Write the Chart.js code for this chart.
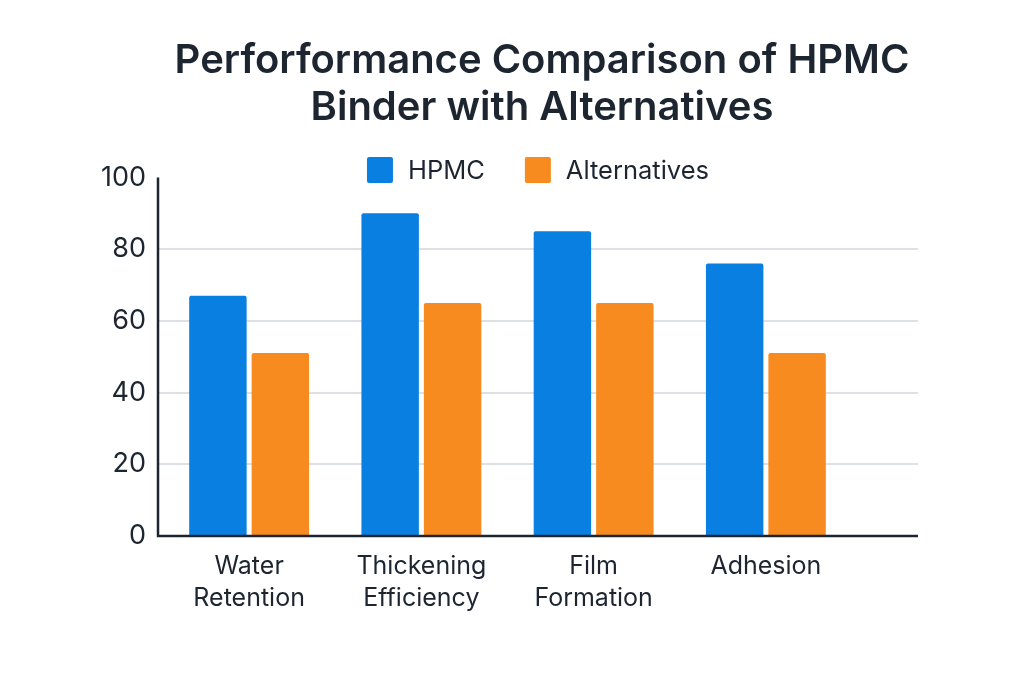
<!DOCTYPE html>
<html>
<head>
<meta charset="utf-8">
<title>Performance Comparison of HPMC Binder with Alternatives</title>
<script src="https://cdn.jsdelivr.net/npm/chart.js@4.4.1/dist/chart.umd.min.js"></script>
<style>
  html, body { margin: 0; padding: 0; background: #fff; }
</style>
</head>
<body>
<canvas id="chart" width="1024" height="683"></canvas>
<script>
// DATA
const categories = [['Water', 'Retention'], ['Thickening', 'Efficiency'], ['Film', 'Formation'], ['Adhesion']];
const hpmcValues = [67, 90, 85, 76];
const altValues = [51, 65, 65, 51];
const yTicks = [0, 20, 40, 60, 80, 100];
const seriesNames = ['HPMC', 'Alternatives'];
const seriesColors = ['#0a7fe2', '#f78b1f'];
const titleLines = ['Perforformance Comparison of HPMC', 'Binder with Alternatives'];

const TEXT = '#1c2530';
const FONT = 'Inter, "Noto Sans", sans-serif';

// grid lines + axis lines run a bit past the category area
const frame = {
    id: 'frame',
    beforeDatasetsDraw(chart) {
        const { ctx, chartArea } = chart;
        const y = chart.scales.y;
        const left = chartArea.left - 5, right = chartArea.right + 66;
        ctx.save();
        ctx.strokeStyle = '#dde1e6';
        ctx.lineWidth = 2;
        yTicks.slice(1, -1).forEach(v => {
            const py = Math.round(y.getPixelForValue(v));
            ctx.beginPath();
            ctx.moveTo(left, py);
            ctx.lineTo(right, py);
            ctx.stroke();
        });
        ctx.restore();
    },
    afterDatasetsDraw(chart) {
        const { ctx, chartArea } = chart;
        const y = chart.scales.y;
        const left = chartArea.left - 5, right = chartArea.right + 66;
        const top = y.getPixelForValue(yTicks[yTicks.length - 1]);
        const bottom = y.getPixelForValue(0);
        ctx.save();
        ctx.strokeStyle = TEXT;
        ctx.lineWidth = 2.5;
        ctx.beginPath();
        ctx.moveTo(left, top);
        ctx.lineTo(left, bottom);
        ctx.lineTo(right, bottom);
        ctx.stroke();
        ctx.restore();
    }
};

// legend drawn by hand so it can sit right on top of the plot
const legendRow = {
    id: 'legendRow',
    afterDraw(chart) {
        const { ctx } = chart;
        const box = 26, gap = 15, spacing = 40, cy = 170;
        ctx.save();
        ctx.font = '25.5px ' + FONT;
        ctx.textBaseline = 'middle';
        const widths = chart.data.datasets.map(d => ctx.measureText(d.label).width);
        const total = widths.reduce((a, w) => a + box + gap + w, 0) + spacing * (widths.length - 1);
        let x = 538 - total / 2;
        chart.data.datasets.forEach((d, i) => {
            ctx.fillStyle = d.backgroundColor;
            ctx.beginPath();
            ctx.roundRect(x, cy - box / 2, box, box, 2);
            ctx.fill();
            ctx.fillStyle = TEXT;
            ctx.fillText(d.label, x + box + gap, cy + 1);
            x += box + gap + widths[i] + spacing;
        });
        ctx.restore();
    }
};

new Chart(document.getElementById('chart'), {
    type: 'bar',
    data: {
        labels: categories,
        datasets: [
            { label: seriesNames[0], data: hpmcValues, backgroundColor: seriesColors[0] },
            { label: seriesNames[1], data: altValues, backgroundColor: seriesColors[1] }
        ]
    },
    options: {
        responsive: false,
        animation: false,
        devicePixelRatio: 1,
        categoryPercentage: 0.725,
        barPercentage: 0.92,
        borderRadius: 2,
        borderSkipped: 'bottom',
        layout: { padding: { left: 60, right: 0, top: 0, bottom: 62 } },
        scales: {
            x: {
                grid: { display: false },
                border: { display: false },
                ticks: {
                    color: TEXT,
                    font: { family: FONT, size: 25, lineHeight: 1.3 },
                    padding: 6,
                    maxRotation: 0,
                    autoSkip: false
                }
            },
            y: {
                min: yTicks[0],
                max: yTicks[yTicks.length - 1],
                afterBuildTicks: s => { s.ticks = yTicks.map(v => ({ value: v })); },
                afterFit: s => { s.width = 103; },
                grid: { display: false, drawTicks: false, tickLength: 0 },
                border: { display: false },
                ticks: {
                    color: TEXT,
                    font: { family: FONT, size: 27 },
                    padding: 17
                }
            },
            yRight: {
                type: 'linear',
                position: 'right',
                afterFit: s => { s.width = 172; },
                grid: { display: false, drawTicks: false },
                border: { display: false },
                ticks: { display: false }
            }
        },
        plugins: {
            legend: { display: false },
            tooltip: { enabled: false },
            title: {
                display: true,
                text: titleLines,
                color: TEXT,
                font: { family: FONT, size: 40, weight: '600', lineHeight: 1.18 },
                padding: { top: 37, bottom: 46 }
            }
        }
    },
    plugins: [frame, legendRow]
});
</script>
</body>
</html>
